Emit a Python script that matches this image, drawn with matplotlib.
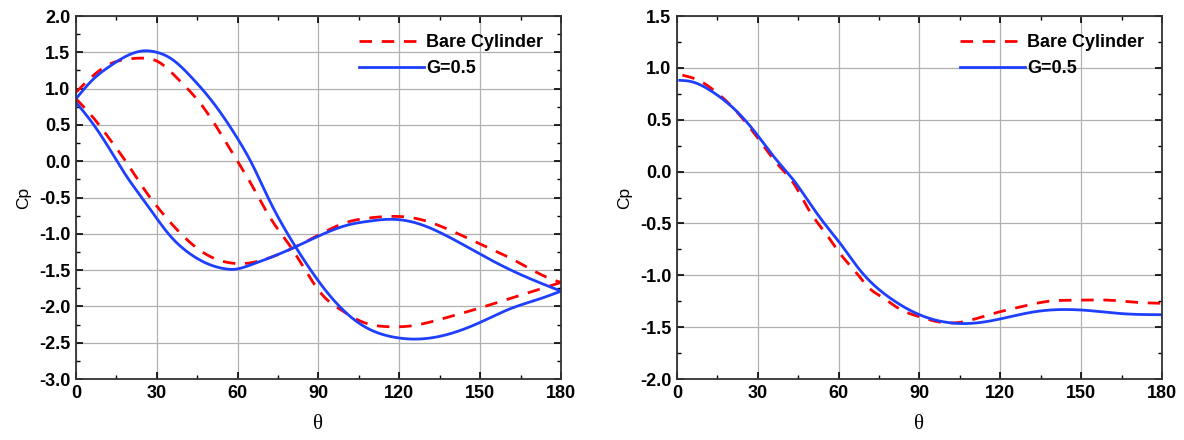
import numpy as np
import matplotlib
matplotlib.use("Agg")
import matplotlib.pyplot as plt
from matplotlib.ticker import MultipleLocator, FormatStrFormatter

# ---- left panel (two branches per case) ----
# branch A: starts upward from the stagnation point
theta_ga = [0, 6.4, 12.6, 18.8, 25, 30, 35, 43, 50, 60, 65.5, 71, 82, 94.4, 100, 106.7,
            119, 126.4, 137.5, 150, 162, 171, 180]
g05_a = [0.86, 1.13, 1.31, 1.45, 1.52, 1.50, 1.42, 1.15, 0.85, 0.31, -0.05, -0.48, -1.21,
         -1.86, -2.08, -2.27, -2.43, -2.45, -2.39, -2.22, -2.02, -1.91, -1.79]

theta_ba = [0, 6.4, 12.6, 18, 24, 30, 37.4, 47.3, 57, 64.5, 73.3, 79.5, 91.9, 98, 106.7,
            116.6, 124, 135, 150, 162, 180]
bare_a = [0.95, 1.18, 1.34, 1.40, 1.42, 1.38, 1.15, 0.74, 0.18, -0.28, -0.85, -1.17, -1.86,
          -2.04, -2.22, -2.28, -2.27, -2.18, -2.02, -1.88, -1.67]

# branch B: starts downward
theta_gb = [0, 6.4, 12.6, 18.8, 25, 30, 35, 40, 45, 50, 55, 58.5, 64.7, 73.3, 82, 91.9,
            101.8, 108, 116.6, 125.2, 135, 150, 162, 180]
g05_b = [0.81, 0.51, 0.16, -0.21, -0.53, -0.79, -1.03, -1.21, -1.34, -1.43, -1.48, -1.49,
         -1.43, -1.31, -1.17, -1.00, -0.87, -0.83, -0.80, -0.84, -0.98, -1.28, -1.51, -1.79]

theta_bb = [0, 6.4, 12.6, 18.8, 25, 30, 37.4, 47.3, 57.2, 64.7, 73.3, 82, 91.9, 100.6,
            109.2, 119, 126.4, 135, 150, 162, 176.8, 180]
bare_b = [0.86, 0.60, 0.30, -0.02, -0.37, -0.62, -0.94, -1.26, -1.40, -1.40, -1.31, -1.17,
          -0.98, -0.84, -0.78, -0.76, -0.79, -0.89, -1.14, -1.35, -1.63, -1.67]

# ---- right panel ----
theta_r_bare = [2, 8, 14.8, 21, 30.9, 37, 43.2, 49.4, 55.6, 60.5, 66.7, 71.6, 76.1, 82.3,
                90, 97.2, 105.9, 115.8, 128.2, 138.1, 148, 160.4, 170.3, 180]
bare_r = [0.93, 0.88, 0.76, 0.61, 0.29, 0.08, -0.11, -0.39, -0.61, -0.79, -0.98, -1.13,
          -1.21, -1.32, -1.40, -1.45, -1.45, -1.38, -1.30, -1.25, -1.24, -1.24, -1.26, -1.27]

theta_r_g = [1, 4.9, 9.9, 14.8, 21, 30.2, 37, 43.2, 49.4, 55.6, 60.5, 67.9, 78.6, 90,
             102.1, 110.8, 120.1, 133.1, 143, 152.9, 165.3, 180]
g05_r = [0.88, 0.87, 0.82, 0.74, 0.61, 0.34, 0.11, -0.08, -0.31, -0.53, -0.69, -0.95,
         -1.21, -1.38, -1.46, -1.46, -1.42, -1.35, -1.33, -1.34, -1.37, -1.38]

RED = '#ff0000'
BLUE = '#1f3fff'

plt.rcParams['font.family'] = ['Liberation Sans', 'DejaVu Sans']
plt.rcParams['font.weight'] = 'bold'


def smooth(x, y, n=400):
    """Natural cubic spline through the read points."""
    x = np.asarray(x, float)
    y = np.asarray(y, float)
    k = len(x)
    h = np.diff(x)
    A = np.zeros((k, k))
    r = np.zeros(k)
    A[0, 0] = A[-1, -1] = 1
    for i in range(1, k - 1):
        A[i, i - 1] = h[i - 1]
        A[i, i] = 2 * (h[i - 1] + h[i])
        A[i, i + 1] = h[i]
        r[i] = 3 * ((y[i + 1] - y[i]) / h[i] - (y[i] - y[i - 1]) / h[i - 1])
    c = np.linalg.solve(A, r)
    b = (y[1:] - y[:-1]) / h - h * (2 * c[:-1] + c[1:]) / 3
    d = (c[1:] - c[:-1]) / (3 * h)
    xs = np.linspace(x[0], x[-1], n)
    idx = np.clip(np.searchsorted(x, xs) - 1, 0, k - 2)
    dx = xs - x[idx]
    ys = y[idx] + b[idx] * dx + c[idx] * dx**2 + d[idx] * dx**3
    return xs, ys


def style_axes(ax, ylim):
    ax.set_xlim(0, 180)
    ax.set_ylim(*ylim)
    ax.xaxis.set_major_locator(MultipleLocator(30))
    ax.xaxis.set_minor_locator(MultipleLocator(15))
    ax.yaxis.set_major_locator(MultipleLocator(0.5))
    ax.yaxis.set_minor_locator(MultipleLocator(0.25))
    ax.yaxis.set_major_formatter(FormatStrFormatter('%.1f'))
    ax.grid(True, which='major', color='#b0b0b0', linewidth=0.9)
    ax.tick_params(which='both', direction='in', top=True, right=True)
    ax.tick_params(which='major', length=5, width=1.2, labelsize=13, pad=4)
    ax.tick_params(which='minor', length=3, width=1.0)
    for sp in ax.spines.values():
        sp.set_linewidth(1.3)
        sp.set_color('#333333')
    ax.set_xlabel('θ', family='Liberation Serif', fontweight='normal', fontsize=15, labelpad=10)
    ax.set_ylabel('Cp', fontsize=12.5, labelpad=6)
    ax.legend(loc='upper right', frameon=False, handlelength=3.6, handletextpad=0.1,
              prop={'weight': 'bold', 'size': 13},
              borderaxespad=0.6, labelspacing=0.5)


fig = plt.figure(figsize=(11.84, 4.4), dpi=100)
ax1 = fig.add_axes([0.0642, 0.1386, 0.4096, 0.825])
ax2 = fig.add_axes([0.5718, 0.1386, 0.4096, 0.825])

dash = dict(color=RED, linestyle=(0, (4.5, 3.5)), linewidth=2)
solid = dict(color=BLUE, linewidth=2)

xs, ys = smooth(theta_ba, bare_a)
ax1.plot(xs, ys, label='Bare Cylinder', **dash)
xs, ys = smooth(theta_bb, bare_b)
ax1.plot(xs, ys, **dash)
xs, ys = smooth(theta_ga, g05_a)
ax1.plot(xs, ys, label='G=0.5', **solid)
xs, ys = smooth(theta_gb, g05_b)
ax1.plot(xs, ys, **solid)
style_axes(ax1, (-3.0, 2.0))

xs, ys = smooth(theta_r_bare, bare_r)
ax2.plot(xs, ys, label='Bare Cylinder', **dash)
xs, ys = smooth(theta_r_g, g05_r)
ax2.plot(xs, ys, label='G=0.5', **solid)
style_axes(ax2, (-2.0, 1.5))

fig.savefig('out.png', dpi=100)
